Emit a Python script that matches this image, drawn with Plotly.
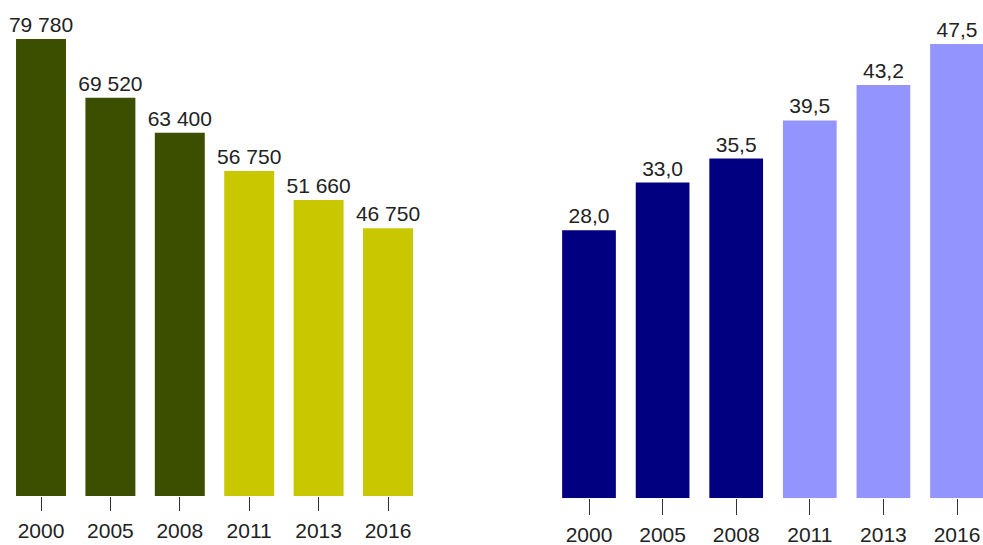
import plotly.graph_objects as go

years = ["2000", "2005", "2008", "2011", "2013", "2016"]
left_values = [79780, 69520, 63400, 56750, 51660, 46750]
right_values = [28.0, 33.0, 35.5, 39.5, 43.2, 47.5]

left_colors = ["#3c4f00"] * 3 + ["#c9c700"] * 3
right_colors = ["#000080"] * 3 + ["#9494ff"] * 3

W, H = 983, 545
font_family = "Liberation Sans, Arial, sans-serif"

fig = go.Figure()
fig.add_trace(go.Bar(
    x=years, y=left_values, marker=dict(color=left_colors, line=dict(width=0)),
    width=0.72, texttemplate="%{y:,.0f}", textposition="outside", constraintext="none",
    textfont=dict(size=21, color="#222222", family=font_family),
    cliponaxis=False, xaxis="x", yaxis="y", showlegend=False,
))
fig.add_trace(go.Bar(
    x=years, y=right_values, marker=dict(color=right_colors, line=dict(width=0)),
    width=0.73, texttemplate="%{y:.1f}", textposition="outside", constraintext="none",
    textfont=dict(size=21, color="#222222", family=font_family),
    cliponaxis=False, xaxis="x2", yaxis="y2", showlegend=False,
))

axis_common = dict(
    type="category", showgrid=False, zeroline=False, showline=False, automargin=False,
    ticks="outside", tickwidth=1, tickcolor="#333333",
    tickfont=dict(size=21, color="#222222", family=font_family),
    ticklabelstandoff=2,
)

# left panel: category centres at 41 + 69.4*i (reference px)
l_step, l_c0 = 69.4, 41
l_left = l_c0 - 0.5 * l_step
l_right = l_c0 + 5.5 * l_step
# right panel: category centres at 589 + 73.6*i
r_step, r_c0 = 73.6, 589
r_left = r_c0 - 0.5 * r_step

fig.update_layout(
    width=W, height=H,
    margin=dict(l=0, r=0, t=0, b=0, autoexpand=False),
    paper_bgcolor="white", plot_bgcolor="white",
    separators=", ",
    font=dict(family=font_family),
    xaxis=dict(domain=[l_left / W, l_right / W], range=[-0.5, 5.5], anchor="y",
               ticklen=14, **axis_common),
    yaxis=dict(domain=[(H - 496) / H, 1], range=[0, 496 / 0.005728],
               visible=False, anchor="x", automargin=False),
    xaxis2=dict(domain=[r_left / W, 1], range=[-0.5, (W - r_left) / r_step - 0.5],
                anchor="y2", ticklen=16, **axis_common),
    yaxis2=dict(domain=[(H - 498) / H, 1], range=[0, 498 / 9.56],
                visible=False, anchor="x2", automargin=False),
)

fig.write_html(
    "out.html",
    config={"displayModeBar": False},
    post_script="document.body.style.margin='0';"
                "document.documentElement.style.overflow='hidden';",
)
